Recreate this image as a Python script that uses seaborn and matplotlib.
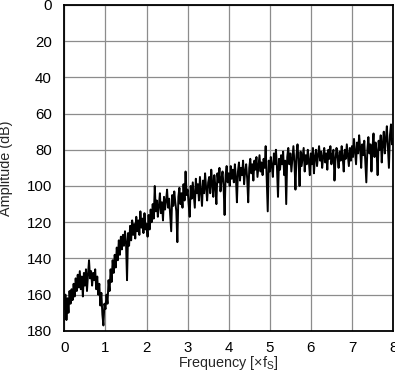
import matplotlib
matplotlib.use("Agg")
import matplotlib.pyplot as plt
import seaborn as sns
import numpy as np
import pandas as pd

# amplitude (dB), one value every 0.025 x fS
amp_0 = [168, 160, 174, 162, 170, 158, 165, 157, 163, 154, 161, 151, 158, 149, 156, 147, 157, 150, 161, 148,
         155, 146, 158, 149, 141, 151, 147, 155, 148, 152, 146, 157, 150, 160, 154, 166, 159, 171, 177, 165]
amp_1 = [168, 160, 165, 152, 158, 146, 153, 141, 148, 138, 145, 134, 141, 130, 138, 128, 135, 127, 133, 125,
         131, 152, 126, 133, 122, 130, 119, 127, 121, 129, 117, 125, 119, 127, 114, 123, 118, 126, 115, 124]
amp_2 = [121, 128, 116, 124, 113, 120, 110, 118, 100, 114, 108, 117, 111, 104, 115, 109, 119, 106, 113, 108,
         102, 112, 107, 116, 125, 105, 111, 103, 109, 114, 131, 106, 101, 110, 104, 112, 99, 108, 92, 105]
amp_3 = [102, 110, 117, 100, 107, 98, 105, 112, 96, 104, 99, 108, 95, 103, 111, 97, 104, 93, 101, 108,
         98, 95, 104, 91, 99, 106, 94, 100, 110, 93, 98, 90, 103, 96, 92, 100, 116, 94, 89, 98]
amp_4 = [93, 100, 89, 96, 91, 98, 88, 95, 109, 92, 87, 97, 90, 94, 86, 99, 92, 88, 96, 109,
         90, 85, 93, 88, 97, 86, 91, 84, 95, 89, 83, 92, 87, 94, 85, 90, 78, 96, 114, 86]
amp_5 = [92, 84, 89, 95, 82, 88, 80, 90, 106, 85, 91, 83, 88, 81, 94, 86, 110, 84, 79, 88,
         82, 92, 85, 78, 87, 102, 83, 77, 86, 100, 81, 89, 84, 79, 92, 83, 88, 80, 86, 94]
amp_6 = [82, 88, 79, 93, 84, 80, 89, 83, 78, 86, 81, 90, 84, 79, 87, 82, 91, 80, 85, 78,
         88, 83, 80, 97, 85, 79, 84, 90, 81, 86, 78, 84, 92, 80, 85, 77, 83, 89, 79, 86]
amp_7 = [78, 84, 74, 81, 88, 76, 82, 72, 79, 90, 77, 83, 75, 86, 98, 80, 73, 82, 77, 92,
         79, 71, 84, 76, 81, 94, 75, 80, 72, 87, 77, 70, 82, 74, 67, 79, 90, 72, 66, 77, 74]

amplitude = amp_0 + amp_1 + amp_2 + amp_3 + amp_4 + amp_5 + amp_6 + amp_7
frequency = np.linspace(0, 8, len(amplitude))

x_ticks = [0, 1, 2, 3, 4, 5, 6, 7, 8]
y_ticks = [0, 20, 40, 60, 80, 100, 120, 140, 160, 180]

df = pd.DataFrame({"freq": frequency, "amp": amplitude})

sns.set_theme(style="white")
plt.rcParams["font.family"] = ["Liberation Sans", "DejaVu Sans"]

fig = plt.figure(figsize=(3.95, 3.76), dpi=100)
ax = fig.add_axes([0.163, 0.12, 0.832, 0.867])

sns.lineplot(data=df, x="freq", y="amp", color="black", linewidth=1.4, ax=ax)

ax.set_xlim(0, 8)
ax.set_ylim(180, 0)
ax.set_xticks(x_ticks)
ax.set_yticks(y_ticks)
ax.tick_params(axis="y", labelsize=10.8, length=0, pad=9, colors="black")
ax.tick_params(axis="x", labelsize=10.8, length=0, pad=7, colors="black")
ax.grid(True, color="#8c8c8c", linewidth=0.9)
for s in ax.spines.values():
    s.set_color("black")
    s.set_linewidth(1.3)

ax.set_xlabel(r"Frequency [×f$_\mathregular{S}$]", fontsize=10.4)
ax.set_ylabel("Amplitude (dB)", fontsize=10.4)
ax.xaxis.set_label_coords(0.5, -0.07)
ax.yaxis.set_label_coords(-0.157, 0.5)

fig.savefig("out.png", dpi=100)
